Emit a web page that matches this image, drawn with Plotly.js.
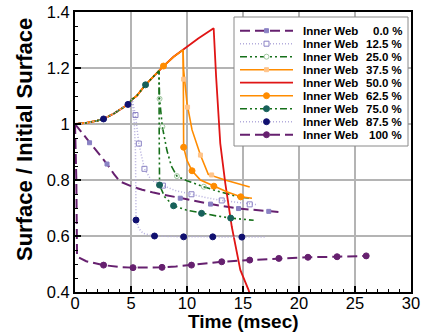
<!DOCTYPE html>
<html><head><meta charset="utf-8">
<script src="https://cdn.plot.ly/plotly-3.0.1.min.js"></script>
<style>html,body{margin:0;padding:0;background:#fff}#c{width:426px;height:334px}</style>
</head><body><div id="c"></div>
<script>
// ---- data (time in msec, surface ratio) ----
const labels = ['0.0 %','12.5 %','25.0 %','37.5 %','50.0 %','62.5 %','75.0 %','87.5 %','100 %'];

const t00 = [0,0.5,1.3,2,2.86,3.5,4.0,5,6,7,8,9.4,12.1,14.6,17.3,18.4];
const s00 = [1.0,0.975,0.933,0.898,0.857,0.82,0.795,0.778,0.765,0.755,0.747,0.735,0.714,0.698,0.688,0.685];
const mt00 = [1.3,2.86,9.4,12.1,14.6,17.3];
const ms00 = [0.933,0.857,0.735,0.714,0.698,0.688];

const t125 = [0,1,2,2.55,3.5,4.73,5.1,5.25,5.4,5.7,6.2,6.8,7.85,9,10.4,11.7,13.1,14.4,15.6,16.2];
const s125 = [1.0,1.004,1.012,1.018,1.038,1.07,1.088,1.06,1.032,0.93,0.84,0.80,0.78,0.762,0.749,0.737,0.727,0.72,0.713,0.712];
const mt125 = [5.4,5.7,6.2,7.85,10.4,13.1,15.6];
const ms125 = [1.032,0.93,0.84,0.78,0.749,0.727,0.713];

const t25 = [0,1,2,2.55,3.5,4.73,5.1,5.5,6.3,7.1,7.5,7.55,7.8,8.2,8.6,9.1,10,11.5,13,14.8,15.8];
const s25 = [1.0,1.004,1.012,1.018,1.038,1.07,1.088,1.1,1.14,1.175,1.19,1.09,0.99,0.907,0.85,0.814,0.797,0.776,0.757,0.738,0.735];
const mt25 = [7.55,7.8,9.1,11.5,14.8];
const ms25 = [1.09,0.99,0.814,0.776,0.738];

const t375 = [0,1,2,2.55,3.5,4.73,5.1,5.5,6.3,7.1,7.5,7.9,8.8,9.65,9.7,10.0,10.45,11.2,11.9,13.4,15.6];
const s375 = [1.0,1.004,1.012,1.018,1.038,1.07,1.088,1.1,1.14,1.175,1.19,1.207,1.24,1.265,1.193,1.074,0.979,0.889,0.82,0.8,0.775];
const mt375 = [9.7,10.05,11.2,12.2];
const ms375 = [1.16,1.06,0.889,0.818];

const t50 = [0,1,2,2.55,3.5,4.73,5.1,5.5,6.3,7.1,7.5,7.9,8.8,9.65,11,12.38,12.6,12.97,13.42,14.0,14.76,15.5,15.65];
const s50 = [1.0,1.004,1.012,1.018,1.038,1.07,1.088,1.1,1.14,1.175,1.19,1.207,1.24,1.265,1.305,1.342,1.169,0.931,0.788,0.633,0.479,0.407,0.385];

const t625 = [0,1,2,2.55,3.5,4.73,5.1,5.5,6.3,7.1,7.5,7.9,8.8,9.65,9.68,9.7,10.0,10.45,11.2,12.4,13.6,14.8,15.8];
const s625 = [1.0,1.004,1.012,1.018,1.038,1.07,1.088,1.1,1.14,1.175,1.19,1.207,1.24,1.265,1.1,0.917,0.87,0.833,0.8,0.778,0.757,0.74,0.735];
const mt625 = [7.9,9.7,10.45,12.4,14.8];
const ms625 = [1.207,0.917,0.833,0.778,0.74];

const t75 = [0,1,2,2.55,3.5,4.73,5.1,5.5,6.3,7.1,7.5,7.52,7.55,8,8.8,10,11.3,12.6,13.9,15.95];
const s75 = [1.0,1.004,1.012,1.018,1.038,1.07,1.088,1.1,1.14,1.175,1.19,0.95,0.782,0.74,0.708,0.692,0.681,0.672,0.664,0.656];
const mt75 = [6.3,7.55,8.8,11.3,13.9];
const ms75 = [1.14,0.782,0.708,0.681,0.664];

const t875 = [0,1,2,2.55,3.5,4.73,5.1,5.3,5.4,5.42,5.45,5.7,6.1,7.1,9.7,12.3,14.9,17.1];
const s875 = [1.0,1.004,1.012,1.018,1.038,1.07,1.088,1.0,0.9,0.75,0.657,0.627,0.609,0.6,0.597,0.597,0.596,0.596];
const mt875 = [2.55,4.73,5.45,7.1,9.7,12.3,14.9];
const ms875 = [1.018,1.07,0.657,0.6,0.597,0.597,0.596];

const t100 = [0,0.12,0.18,1,2.55,4,5.18,6.5,7.77,9,10.4,13.1,15.6,18.2,20.8,23.4,26.0];
const s100 = [1.0,0.8,0.526,0.51,0.496,0.489,0.487,0.487,0.488,0.491,0.496,0.508,0.514,0.52,0.524,0.526,0.529];
const mt100 = [2.55,5.18,7.77,10.4,13.1,15.6,18.2,20.8,23.4,26.0];
const ms100 = [0.496,0.487,0.488,0.496,0.508,0.514,0.52,0.524,0.526,0.529];

const xTicks = [0,5,10,15,20,25,30];
const yTicks = [0.4,0.6,0.8,1.0,1.2,1.4];
const xTitle = 'Time (msec)';
const yTitle = 'Surface / Initial Surface';

// ---- styles ----
const PURPLE='#66206f', LAV='#b3acdc', LAVM='#8a82c4', GREEN='#16701a', ORANGE='#ff8c00', RED='#e01515', TEAL='#17605a', NAVY='#101070', LORANGE='#ffc48a', LGREEN='#9fc89f';
const DDOT='7px,3px,2px,3px,2px,3px';
const series = [
 {t:t00,s:s00,mt:mt00,ms:ms00,color:PURPLE,dash:'10px,5px',w:2,sym:'square',mc:LAVM,msz:4},
 {t:t125,s:s125,mt:mt125,ms:ms125,color:LAV,dash:'1px,2px',w:1.5,sym:'square-open',mc:LAVM,msz:5},
 {t:t25,s:s25,mt:mt25,ms:ms25,color:GREEN,dash:DDOT,w:1.6,sym:'circle-open',mc:LGREEN,msz:5},
 {t:t375,s:s375,mt:mt375,ms:ms375,color:ORANGE,dash:'solid',w:1.6,sym:'square',mc:LORANGE,msz:4},
 {t:t50,s:s50,mt:null,ms:null,color:RED,dash:'solid',w:1.8,sym:null},
 {t:t625,s:s625,mt:mt625,ms:ms625,color:ORANGE,dash:'solid',w:1.6,sym:'circle',mc:ORANGE,msz:6},
 {t:t75,s:s75,mt:mt75,ms:ms75,color:GREEN,dash:DDOT,w:1.6,sym:'circle',mc:TEAL,msz:6},
 {t:t875,s:s875,mt:mt875,ms:ms875,color:LAV,dash:'1px,2px',w:1.5,sym:'circle',mc:NAVY,msz:6},
 {t:t100,s:s100,mt:mt100,ms:ms100,color:PURPLE,dash:'10px,5px',w:2,sym:'circle',mc:PURPLE,msz:6}
];

const traces = [];
series.forEach((d,i)=>{
  traces.push({x:d.t,y:d.s,mode:'lines',name:'Inner Web '+labels[i],showlegend:false,hoverinfo:'skip',
    line:{color:d.color,dash:d.dash,width:d.w}});
});
series.forEach((d,i)=>{
  if(!d.mt) return;
  traces.push({x:d.mt,y:d.ms,mode:'markers',showlegend:false,hoverinfo:'skip',
    marker:{symbol:d.sym,color:d.mc,size:d.msz,line:{color:d.mc,width:1}}});
});

// ---- layout helpers (pixel -> paper) ----
const W=426,H=334,ML=75,MR=15,MT=12,MB=42;
const PL=ML, PR=W-MR, PT=MT, PB=H-MB;
const px = x => (x-PL)/(PR-PL);
const py = y => (PB-y)/(PB-PT);

const FONT='Liberation Sans, Arial, sans-serif';
const shapes = [], annotations = [];
// legend box
shapes.push({type:'rect',xref:'paper',yref:'paper',x0:px(234),x1:px(408),y0:py(146),y1:py(17),
  fillcolor:'#ffffff',line:{color:'#8a8a8a',width:1},layer:'above'});
series.forEach((d,i)=>{
  const ry = py(30.7+i*13);
  shapes.push({type:'line',xref:'paper',yref:'paper',x0:px(240),x1:px(293),y0:ry,y1:ry,
    line:{color:d.color,dash:d.dash,width:d.w},layer:'above'});
  if(d.sym){
    const open = d.sym.indexOf('open')>=0, sq = d.sym.indexOf('square')>=0;
    const r = d.msz/2;
    shapes.push({type:sq?'rect':'circle',xref:'paper',yref:'paper',xsizemode:'pixel',ysizemode:'pixel',
      xanchor:px(266.5),yanchor:ry,x0:-r,x1:r,y0:-r,y1:r,
      fillcolor:open?'#ffffff':d.mc,line:{color:d.mc,width:1},layer:'above'});
  }
  annotations.push({xref:'paper',yref:'paper',x:px(301),y:ry,xanchor:'left',yanchor:'middle',showarrow:false,
    text:'Inner Web',font:{family:FONT,size:11.5,weight:'bold',color:'#000'}});
  annotations.push({xref:'paper',yref:'paper',x:px(404),y:ry,xanchor:'right',yanchor:'middle',showarrow:false,
    text:labels[i],font:{family:FONT,size:11.5,weight:'bold',color:'#000'}});
});
// axis titles
annotations.push({xref:'paper',yref:'paper',x:px(243),y:py(321),xanchor:'center',yanchor:'middle',showarrow:false,
  text:xTitle,font:{family:FONT,size:19,weight:'bold',color:'#000'}});
annotations.push({xref:'paper',yref:'paper',x:px(24),y:py(140),xanchor:'center',yanchor:'middle',showarrow:false,
  textangle:-90,text:yTitle,font:{family:FONT,size:22,weight:'bold',color:'#000'}});

const axisCommon = {
  showline:true, linecolor:'#000', linewidth:2, mirror:true,
  showgrid:true, gridcolor:'#b4b4b4', gridwidth:1.5, zeroline:false,
  ticks:'inside', ticklen:6, tickwidth:2, tickcolor:'#000',
  tickfont:{family:FONT,size:16.5,color:'#000'}
};

const layout = {
  width:W,height:H,margin:{l:ML,r:MR,t:MT,b:MB},
  paper_bgcolor:'#fff',plot_bgcolor:'#fff',showlegend:false,
  xaxis:Object.assign({},axisCommon,{range:[0,30],tickvals:xTicks,ticktext:xTicks.map(String),ticklabelstandoff:-5,
    minor:{dtick:1,ticks:'inside',ticklen:3,tickwidth:1,tickcolor:'#000',showgrid:false}}),
  yaxis:Object.assign({},axisCommon,{range:[0.4,1.4],tickvals:yTicks,ticktext:yTicks.map(v=>String(+v.toFixed(1))),
    minor:{dtick:0.05,tick0:0.4,ticks:'inside',ticklen:3,tickwidth:1,tickcolor:'#000',showgrid:false}}),
  shapes:shapes, annotations:annotations
};

Plotly.newPlot('c',traces,layout,{staticPlot:true});
</script></body></html>
